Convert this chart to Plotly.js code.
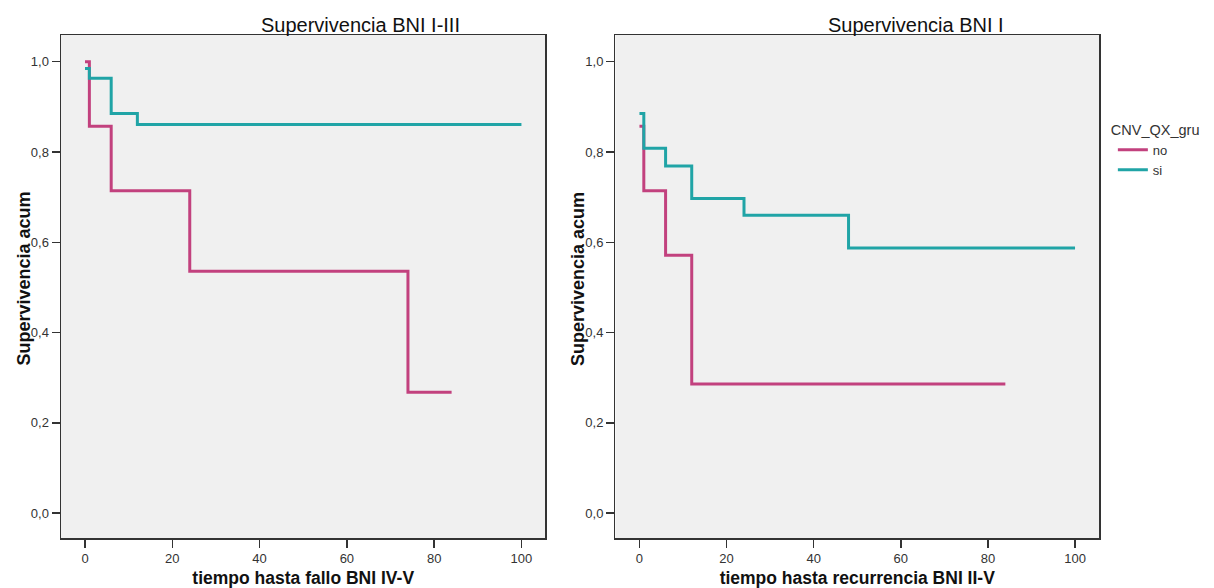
<!DOCTYPE html>
<html>
<head>
<meta charset="utf-8">
<script src="https://cdn.plot.ly/plotly-3.0.1.min.js"></script>
<style>html,body{margin:0;padding:0;background:#fff;}#chart{width:1214px;height:588px;}</style>
</head>
<body>
<div id="chart"></div>
<script>
// Left panel: Supervivencia BNI I-III
const timeLeftNo  = [0, 1, 6, 24, 74, 84];
const survLeftNo  = [1.0, 0.857, 0.714, 0.536, 0.268, 0.268];
const timeLeftSi  = [0, 1, 6, 12, 100];
const survLeftSi  = [0.985, 0.963, 0.885, 0.861, 0.861];
// Right panel: Supervivencia BNI I
const timeRightNo = [0, 1, 6, 12, 84];
const survRightNo = [0.857, 0.714, 0.571, 0.286, 0.286];
const timeRightSi = [0, 1, 6, 12, 24, 48, 100];
const survRightSi = [0.885, 0.808, 0.769, 0.697, 0.66, 0.587, 0.587];

const groupNames = ['no', 'si'];
const panelTitles = ['Supervivencia BNI I-III', 'Supervivencia BNI I'];
const xTitles = ['tiempo hasta fallo BNI IV-V', 'tiempo hasta recurrencia BNI II-V'];
const yTitle = 'Supervivencia acum';
const legendTitle = 'CNV_QX_gru';

const colNo = '#c2417e';
const colSi = '#20a4a6';

function step(x, y, name, color, xa, ya, show) {
  return {x: x, y: y, name: name, type: 'scatter', mode: 'lines',
    line: {shape: 'hv', color: color, width: 3},
    xaxis: xa, yaxis: ya, showlegend: show, hoverinfo: 'x+y+name'};
}

const data = [
  step(timeLeftNo, survLeftNo, groupNames[0], colNo, 'x', 'y', false),
  step(timeLeftSi, survLeftSi, groupNames[1], colSi, 'x', 'y', false),
  step(timeRightNo, survRightNo, groupNames[0], colNo, 'x2', 'y2', true),
  step(timeRightSi, survRightSi, groupNames[1], colSi, 'x2', 'y2', true)
];

const fontFam = 'Liberation Sans, Arial, sans-serif';
function xax(domain, title, anchor) {
  return {domain: domain, anchor: anchor, range: [-5.5, 105.5], tick0: 0, dtick: 20,
    ticks: 'outside', ticklen: 8, tickwidth: 1.5, tickcolor: '#333',
    showline: true, mirror: true, linecolor: '#333', linewidth: 1.5,
    showgrid: false, zeroline: false, tickfont: {size: 13, color: '#333', family: fontFam},
    title: {text: title, font: {size: 17.5, color: '#111', family: fontFam, weight: 'bold'}, standoff: 6}};
}
function yax(anchor) {
  return {anchor: anchor, domain: [0, 1], range: [-0.055, 1.059], tick0: 0, dtick: 0.2, tickformat: '.1f',
    ticks: 'outside', ticklen: 8, tickwidth: 1.5, tickcolor: '#333',
    showline: true, mirror: true, linecolor: '#333', linewidth: 1.5,
    showgrid: false, zeroline: false, tickfont: {size: 13, color: '#333', family: fontFam}};
}

const titleFont = {size: 20, color: '#111', family: fontFam};
const yTitleFont = {size: 18, color: '#111', family: fontFam, weight: 'bold'};

const layout = {
  width: 1214, height: 588,
  margin: {l: 61, r: 101, t: 35, b: 50},
  paper_bgcolor: '#ffffff', plot_bgcolor: '#f0f0f0',
  separators: ',.',
  font: {family: fontFam, color: '#333'},
  xaxis: xax([0, 0.4667], xTitles[0], 'y'),
  yaxis: yax('x'),
  xaxis2: xax([0.5342, 1], xTitles[1], 'y2'),
  yaxis2: yax('x2'),
  showlegend: true,
  legend: {title: {text: legendTitle, font: {size: 14.5, color: '#333', family: fontFam}},
    x: 1.0095, xanchor: 'left', y: 0.839, yanchor: 'top', tracegroupgap: 0, indentation: 4,
    font: {size: 13, color: '#333', family: fontFam}, bgcolor: 'rgba(0,0,0,0)', itemwidth: 30},
  annotations: [
    {text: panelTitles[0], xref: 'paper', yref: 'paper', x: 0.2887, y: 1, yshift: -3, xanchor: 'center', yanchor: 'bottom',
      showarrow: false, font: titleFont},
    {text: panelTitles[1], xref: 'paper', yref: 'paper', x: 0.8233, y: 1, yshift: -3, xanchor: 'center', yanchor: 'bottom',
      showarrow: false, font: titleFont},
    {text: yTitle, xref: 'paper', yref: 'paper', x: 0, xshift: -38, y: 0.5, yshift: 8, textangle: -90,
      xanchor: 'center', yanchor: 'middle', showarrow: false, font: yTitleFont},
    {text: yTitle, xref: 'paper', yref: 'paper', x: 0.5342, xshift: -38, y: 0.5, yshift: 8, textangle: -90,
      xanchor: 'center', yanchor: 'middle', showarrow: false, font: yTitleFont}
  ]
};

Plotly.newPlot('chart', data, layout, {displayModeBar: false, staticPlot: true});
</script>
</body>
</html>
